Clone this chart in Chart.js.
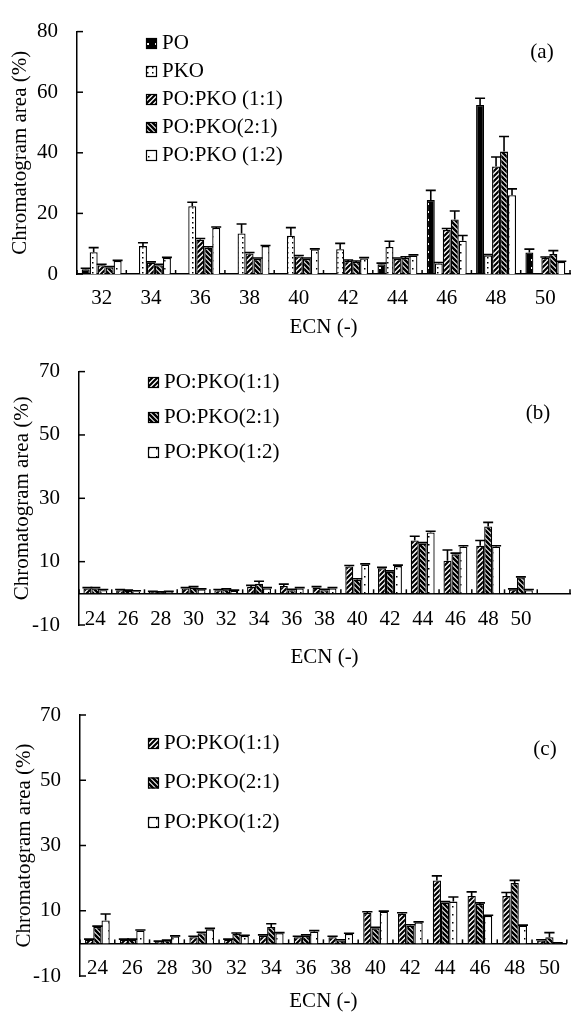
<!DOCTYPE html>
<html>
<head>
<meta charset="utf-8">
<script src="https://cdn.jsdelivr.net/npm/chart.js@4.4.1/dist/chart.umd.min.js"></script>
<style>
  html, body { margin: 0; padding: 0; background: #fff; }
  #wrap { position: relative; width: 573px; height: 1012px; }
  canvas { position: absolute; left: 0; }
</style>
</head>
<body>
<div id="wrap">
  <canvas id="chartA" width="573" height="340" style="top:0px"></canvas>
  <canvas id="chartB" width="573" height="330" style="top:340px"></canvas>
  <canvas id="chartC" width="573" height="342" style="top:670px"></canvas>
</div>
<script>
// ---- panel (a) ----
const ecnA = ['32', '34', '36', '38', '40', '42', '44', '46', '48', '50'];
const poA      = [1.6, 0, 0, 0, 0, 0, 3.2, 24.4, 55.8, 7.1];
const poErrA   = [0.3, 0, 0, 0, 0, 0, 0.4, 3.2, 2.2, 1.1];
const pkoA     = [7.2, 9.2, 22.4, 13.4, 12.6, 8.2, 8.9, 3.5, 6.1, 0];
const pkoErrA  = [1.5, 1.1, 1.3, 3.1, 2.7, 1.9, 1.9, 0.3, 0.3, 0];
const mix11A   = [2.9, 3.7, 11.3, 6.8, 5.8, 4.3, 5.0, 14.5, 35.5, 5.3];
const mix11ErrA = [0.3, 0.3, 0.4, 0.3, 0.3, 0.3, 0.3, 0.5, 3.1, 0.3];
const mix21A   = [2.2, 2.9, 8.7, 5.0, 5.0, 4.0, 5.3, 18.0, 40.4, 6.6];
const mix21ErrA = [0.3, 0.3, 0.3, 0.3, 0.3, 0.3, 0.4, 2.8, 5.0, 1.1];
const mix12A   = [4.3, 5.3, 15.2, 9.2, 8.1, 5.1, 6.0, 11.0, 26.0, 4.0];
const mix12ErrA = [0.2, 0.2, 0.3, 0.2, 0.2, 0.3, 0.3, 1.7, 2.1, 0.2];

// ---- panel (b) ---- (last slot is empty in the original)
const ecnB = ['24', '26', '28', '30', '32', '34', '36', '38', '40', '42', '44', '46', '48', '50', ''];
const mix11B   = [1.5, 1.0, 0.5, 1.5, 1.0, 2.0, 2.3, 1.8, 8.5, 7.9, 16.7, 10.3, 15.0, 1.2];
const mix11ErrB = [0.3, 0.2, 0.1, 0.3, 0.2, 0.5, 0.6, 0.3, 0.3, 0.3, 1.3, 3.4, 1.7, 0.2];
const mix21B   = [1.5, 0.8, 0.4, 1.8, 1.2, 3.0, 1.0, 1.0, 4.3, 6.8, 15.7, 12.3, 21.1, 5.0];
const mix21ErrB = [0.3, 0.2, 0.1, 0.3, 0.2, 0.8, 0.3, 0.3, 0.3, 0.3, 0.3, 0.4, 1.3, 0.2];
const mix12B   = [1.0, 0.6, 0.5, 1.2, 0.8, 1.5, 1.5, 1.5, 9.0, 8.6, 19.2, 14.7, 14.7, 1.0];
const mix12ErrB = [0.2, 0.2, 0.1, 0.2, 0.2, 0.3, 0.3, 0.3, 0.3, 0.3, 0.4, 0.3, 0.3, 0.2];

// ---- panel (c) ----
const ecnC = ['24', '26', '28', '30', '32', '34', '36', '38', '40', '42', '44', '46', '48', '50'];
const mix11C   = [1.1, 1.1, 0.6, 1.9, 1.1, 2.3, 1.9, 1.9, 9.3, 9.1, 19.3, 14.5, 14.5, 0.9];
const mix11ErrC = [0.2, 0.2, 0.1, 0.3, 0.2, 0.3, 0.3, 0.3, 0.4, 0.3, 1.4, 1.3, 1.1, 0.2];
const mix21C   = [5.0, 1.1, 0.9, 3.1, 2.9, 5.0, 2.3, 0.9, 4.6, 5.4, 12.5, 12.1, 18.5, 1.9];
const mix21ErrC = [0.3, 0.2, 0.1, 0.3, 0.3, 1.0, 0.3, 0.2, 0.3, 0.3, 0.3, 0.3, 0.8, 1.4];
const mix12C   = [7.0, 3.9, 2.1, 4.3, 2.3, 3.1, 3.6, 2.9, 9.7, 6.4, 12.8, 8.4, 5.4, 0.1];
const mix12ErrC = [2.0, 0.2, 0.2, 0.3, 0.2, 0.2, 0.3, 0.2, 0.2, 0.2, 1.4, 0.2, 0.2, 0.1];

const FONT = { family: '"Liberation Serif", "Times New Roman", serif', size: 21 };

// black & white fills like the original
function makePattern(kind) {
    const c = document.createElement('canvas');
    const n = kind === 'po' || kind === 'dots' ? 8 : 5;
    c.width = n; c.height = n;
    const g = c.getContext('2d');
    g.fillStyle = kind === 'po' ? '#000' : '#fff';
    g.fillRect(0, 0, n, n);
    if (kind === 'po') {
        g.fillStyle = '#fff';
        g.fillRect(3, 3, 2, 2);
    } else if (kind === 'pko') {
        g.fillStyle = '#000';
        g.fillRect(2, 2, 1.5, 1.5);
    } else if (kind === 'dots') {
        g.fillStyle = '#000';
        g.fillRect(4, 4, 1.5, 1.5);
    } else {
        g.strokeStyle = '#000';
        g.lineWidth = kind === 'back' ? 2.6 : 2.2;
        g.beginPath();
        if (kind === 'fwd') {
            g.moveTo(-1, n + 1); g.lineTo(n + 1, -1);
            g.moveTo(-1, 1); g.lineTo(1, -1);
            g.moveTo(n - 1, n + 1); g.lineTo(n + 1, n - 1);
        } else {
            g.moveTo(-1, -1); g.lineTo(n + 1, n + 1);
            g.moveTo(n - 1, -1); g.lineTo(n + 1, 1);
            g.moveTo(-1, n - 1); g.lineTo(1, n + 1);
        }
        g.stroke();
    }
    return g.createPattern(c, 'repeat');
}

const fills = {
    po: makePattern('po'),
    pko: makePattern('pko'),
    m11: makePattern('fwd'),
    m21: makePattern('back'),
    m12: makePattern('dots')
};

// error bars, inside ticks, legend and panel tag
const extras = {
    id: 'extras',
    afterDatasetsDraw(chart, args, opts) {
        const ctx = chart.ctx;
        const xs = chart.scales.x, ys = chart.scales.y;
        ctx.save();
        ctx.strokeStyle = '#000';
        ctx.lineWidth = 1.6;
        chart.data.datasets.forEach((ds, di) => {
            const meta = chart.getDatasetMeta(di);
            meta.data.forEach((bar, i) => {
                const v = ds.data[i], e = ds.errors[i];
                if (v == null || !e) return;
                const top = ys.getPixelForValue(v + e);
                const half = bar.width / 2 + 1;
                ctx.beginPath();
                ctx.moveTo(bar.x, bar.y);
                ctx.lineTo(bar.x, top);
                ctx.moveTo(bar.x - half, top);
                ctx.lineTo(bar.x + half, top);
                ctx.stroke();
            });
        });

        // small ticks between categories, pointing up
        ctx.lineWidth = 1.5;
        const y0 = ys.getPixelForValue(0);
        for (let i = 0; i <= xs.ticks.length; i++) {
            const px = xs.getPixelForValue(i - 0.5);
            ctx.beginPath();
            ctx.moveTo(px, y0);
            ctx.lineTo(px, y0 - 4);
            ctx.stroke();
        }
        // y ticks pointing inwards
        ys.ticks.forEach(t => {
            const py = ys.getPixelForValue(t.value);
            ctx.beginPath();
            ctx.moveTo(ys.right, py);
            ctx.lineTo(ys.right + 6, py);
            ctx.stroke();
        });

        // legend
        ctx.font = FONT.size + 'px ' + FONT.family;
        ctx.textBaseline = 'middle';
        ctx.lineWidth = 1.2;
        chart.data.datasets.forEach((ds, di) => {
            const cy = opts.legendY + di * opts.legendStep;
            ctx.fillStyle = ds.backgroundColor;
            ctx.fillRect(opts.legendX, cy - 5, 11, 11);
            ctx.strokeRect(opts.legendX + 0.5, cy - 4.5, 10, 10);
            ctx.fillStyle = '#000';
            ctx.fillText(ds.label, opts.legendX + 16, cy);
        });

        ctx.textAlign = 'center';
        ctx.fillText(opts.tag, opts.tagX, opts.tagY);
        ctx.restore();
    }
};

function series(label, fill, data, errors) {
    return {
        label: label,
        data: data,
        errors: errors,
        backgroundColor: fill,
        borderColor: '#000',
        borderWidth: 1.3
    };
}

function makeChart(id, labels, datasets, p) {
    return new Chart(document.getElementById(id), {
        type: 'bar',
        data: { labels: labels, datasets: datasets },
        plugins: [extras],
        options: {
            responsive: false,
            animation: false,
            categoryPercentage: p.catPct,
            barPercentage: 1,
            layout: { padding: p.padding },
            plugins: {
                legend: { display: false },
                tooltip: { enabled: false },
                extras: p.extras
            },
            scales: {
                x: {
                    position: { y: 0 },
                    offset: true,
                    grid: { display: false, drawTicks: false },
                    border: { display: true, color: '#000', width: 1.5 },
                    ticks: { color: '#000', font: FONT, padding: p.xPad, autoSkip: false, maxRotation: 0 },
                    title: { display: true, text: 'ECN (-)', color: '#000', font: FONT, padding: 0 },
                    afterFit(s) { s.height = p.xHeight; }
                },
                y: {
                    min: p.min,
                    max: p.max,
                    grid: { display: false, drawTicks: false },
                    border: { display: true, color: '#000', width: 1.5 },
                    ticks: { stepSize: 20, color: '#000', font: FONT, padding: 19 },
                    title: {
                        display: true, text: 'Chromatogram area (%)', color: '#000', font: FONT,
                        padding: { top: p.titlePad, bottom: 0 }
                    },
                    afterFit(s) { s.width = p.yWidth; }
                }
            }
        }
    });
}

makeChart('chartA', ecnA, [
    series('PO', fills.po, poA, poErrA),
    series('PKO', fills.pko, pkoA, pkoErrA),
    series('PO:PKO (1:1)', fills.m11, mix11A, mix11ErrA),
    series('PO:PKO(2:1)', fills.m21, mix21A, mix21ErrA),
    series('PO:PKO (1:2)', fills.m12, mix12A, mix12ErrA)
], {
    min: 0, max: 80, catPct: 0.81,
    padding: { top: 20, bottom: 66, left: 0, right: 3 },
    yWidth: 77, titlePad: 8, xPad: 12, xHeight: 66,
    extras: { legendX: 146, legendY: 43, legendStep: 28, tag: '(a)', tagX: 542, tagY: 52 }
});

makeChart('chartB', ecnB, [
    series('PO:PKO(1:1)', fills.m11, mix11B, mix11ErrB),
    series('PO:PKO(2:1)', fills.m21, mix21B, mix21ErrB),
    series('PO:PKO(1:2)', fills.m12, mix12B, mix12ErrB)
], {
    min: -10, max: 70, catPct: 0.73,
    padding: { top: 22, bottom: 45, left: 0, right: 3 },
    yWidth: 79, titlePad: 10, xPad: 14, xHeight: 77,
    extras: { legendX: 148, legendY: 42, legendStep: 35, tag: '(b)', tagX: 538, tagY: 73 }
});

makeChart('chartC', ecnC, [
    series('PO:PKO(1:1)', fills.m11, mix11C, mix11ErrC),
    series('PO:PKO(2:1)', fills.m21, mix21C, mix21ErrC),
    series('PO:PKO(1:2)', fills.m12, mix12C, mix12ErrC)
], {
    min: -10, max: 70, catPct: 0.71,
    padding: { top: 45, bottom: 36, left: 0, right: 2 },
    yWidth: 80, titlePad: 12, xPad: 13, xHeight: 71,
    extras: { legendX: 148, legendY: 73, legendStep: 39.5, tag: '(c)', tagX: 545, tagY: 79 }
});
</script>
</body>
</html>
